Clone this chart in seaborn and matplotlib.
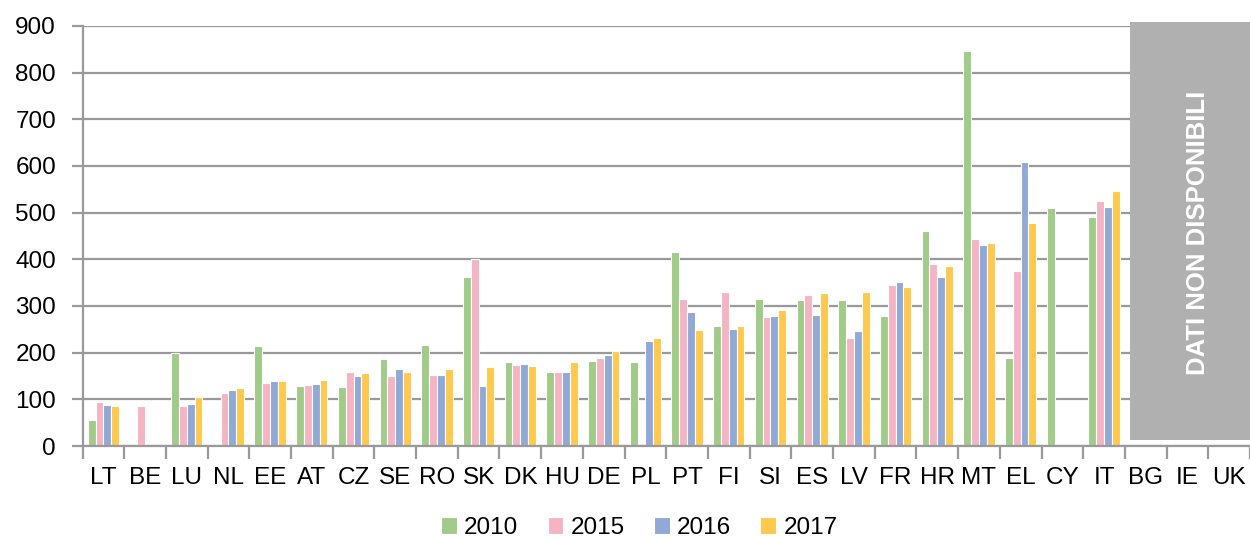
import numpy as np
import pandas as pd
import seaborn as sns
import matplotlib.pyplot as plt
from matplotlib.patches import Rectangle

countries = ['LT', 'BE', 'LU', 'NL', 'EE', 'AT', 'CZ', 'SE', 'RO', 'SK', 'DK', 'HU', 'DE', 'PL',
             'PT', 'FI', 'SI', 'ES', 'LV', 'FR', 'HR', 'MT', 'EL', 'CY', 'IT', 'BG', 'IE', 'UK']
nan = np.nan
v2010 = [55, nan, 199, nan, 214, 128, 126, 186, 216, 363, 181, 159, 182, 179,
         416, 257, 314, 312, 313, 278, 461, 846, 189, 511, 491, nan, nan, nan]
v2015 = [94, 86, 86, 114, 134, 130, 158, 151, 153, 400, 174, 158, 189, nan,
         314, 331, 276, 323, 231, 344, 389, 443, 376, nan, 525, nan, nan, nan]
v2016 = [87, nan, 90, 120, 139, 133, 151, 164, 153, 129, 175, 158, 195, 224,
         288, 251, 279, 280, 246, 352, 363, 430, 608, nan, 513, nan, nan, nan]
v2017 = [85, nan, 106, 124, 140, 141, 157, 158, 166, 169, 171, 181, 203, 231,
         249, 257, 291, 328, 329, 340, 385, 434, 477, nan, 546, nan, nan, nan]
years = ['2010', '2015', '2016', '2017']
colors = ['#A0CB88', '#F5B4C4', '#91A9D5', '#FFC94D']
no_data = ['BG', 'IE', 'UK']

df = pd.DataFrame({
    'paese': countries * 4,
    'anno': [y for y in years for _ in countries],
    'valore': v2010 + v2015 + v2016 + v2017,
})

plt.rcParams['font.family'] = ['Liberation Sans', 'DejaVu Sans']
fig = plt.figure(figsize=(12.5, 5.4), dpi=100)
ax = fig.add_axes([0.066, 0.174, 0.934, 0.778])

sns.barplot(data=df, x='paese', y='valore', hue='anno', order=countries, hue_order=years,
            palette=colors, saturation=1, width=0.75, edgecolor='white', linewidth=0.8, ax=ax)

ax.set_ylim(0, 900)
ax.set_xlim(-0.5, len(countries) - 0.5)
ax.set_yticks(range(0, 901, 100))
ax.yaxis.grid(True, color='#999999', linewidth=1.6)
ax.set_axisbelow(True)
ax.set_xlabel('')
ax.set_ylabel('')
for s in ['top', 'right']:
    ax.spines[s].set_visible(False)
for s in ['left', 'bottom']:
    ax.spines[s].set_color('#999999')
    ax.spines[s].set_linewidth(1.6)
ax.tick_params(axis='y', labelsize=17.5, length=8, color='#999999', width=1.6, pad=11)
ax.tick_params(axis='x', which='major', labelsize=17.5, length=0, pad=15)
ax.set_xticks(np.arange(len(countries) + 1) - 0.5, minor=True)
ax.tick_params(axis='x', which='minor', length=9, color='#999999', width=1.6)

# grey box for countries without data
i0 = countries.index(no_data[0])
box = Rectangle((i0 - 0.38, 12), len(countries) - 0.5 - (i0 - 0.38) + 0.2, 896,
                facecolor='#B0B0B0', edgecolor='none', clip_on=False, zorder=5)
ax.add_patch(box)
ax.text(i0 + 1.25, 456, 'DATI NON DISPONIBILI', rotation=90, color='white', fontsize=18.5,
        fontweight='bold', ha='center', va='center', zorder=6)

ax.legend(loc='center', bbox_to_anchor=(0.477, -0.195), ncol=4, frameon=False,
          fontsize=17.5, handlelength=0.65, handleheight=0.65, handletextpad=0.3, columnspacing=1.2)

fig.savefig('out.png', dpi=100)
